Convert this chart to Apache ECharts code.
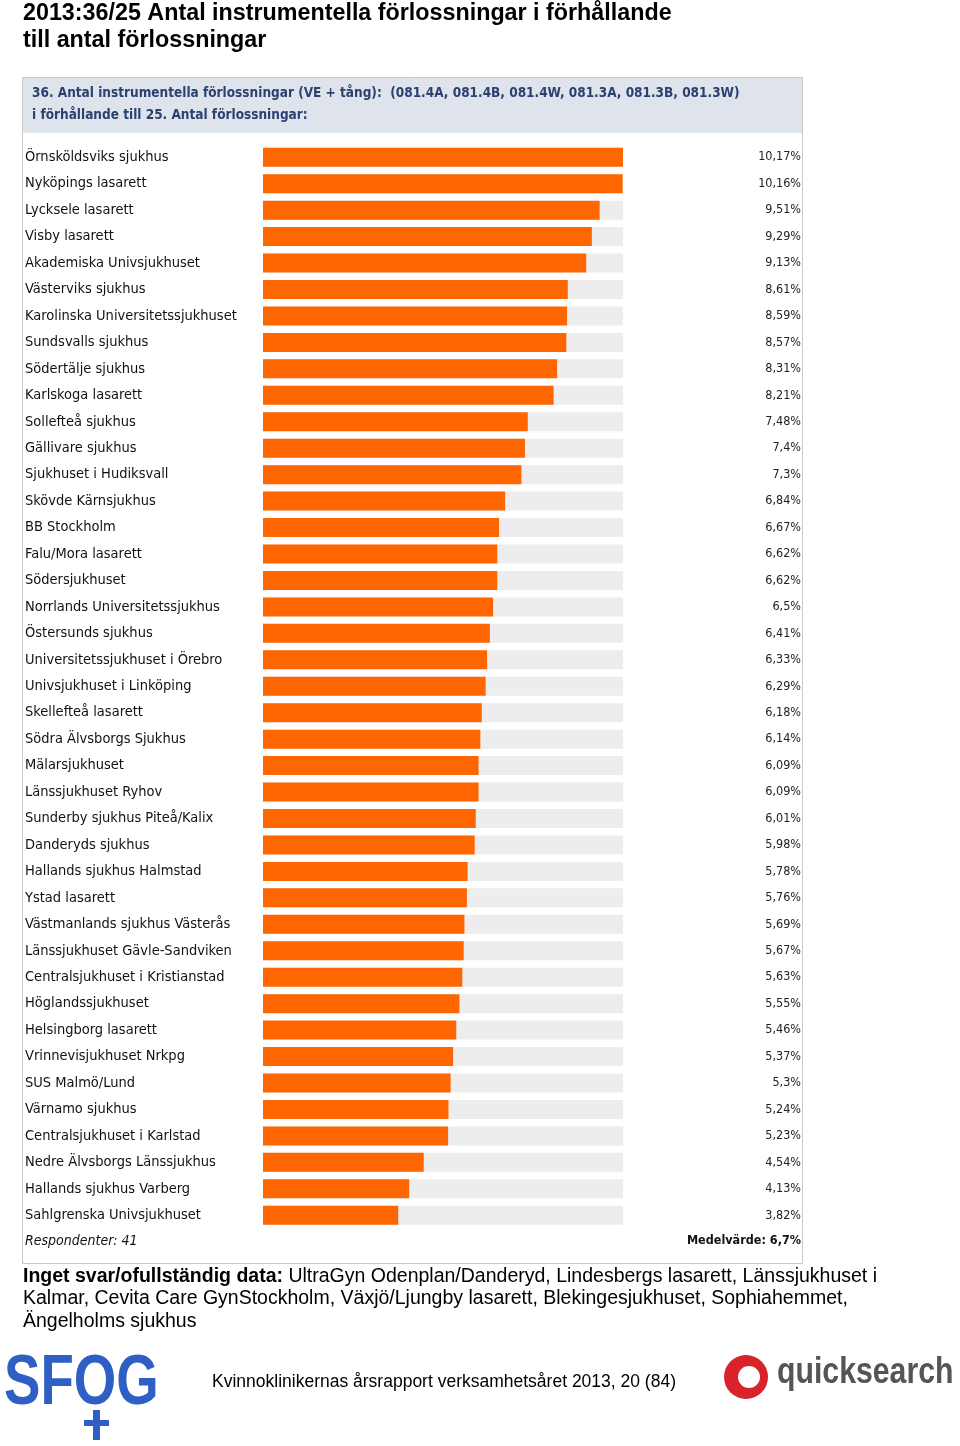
<!DOCTYPE html>
<html><head><meta charset="utf-8">
<script src="https://cdn.jsdelivr.net/npm/echarts@6/dist/echarts.min.js"></script>
<style>html,body{margin:0;padding:0;background:#fff}#c{width:960px;height:1446px}</style>
</head><body><div id="c"></div>
<script>
const categories = [
  "Örnsköldsviks sjukhus","Nyköpings lasarett","Lycksele lasarett","Visby lasarett",
  "Akademiska Univsjukhuset","Västerviks sjukhus","Karolinska Universitetssjukhuset",
  "Sundsvalls sjukhus","Södertälje sjukhus","Karlskoga lasarett","Sollefteå sjukhus",
  "Gällivare sjukhus","Sjukhuset i Hudiksvall","Skövde Kärnsjukhus","BB Stockholm",
  "Falu/Mora lasarett","Södersjukhuset","Norrlands Universitetssjukhus","Östersunds sjukhus",
  "Universitetssjukhuset i Örebro","Univsjukhuset i Linköping","Skellefteå lasarett",
  "Södra Älvsborgs Sjukhus","Mälarsjukhuset","Länssjukhuset Ryhov","Sunderby sjukhus Piteå/Kalix",
  "Danderyds sjukhus","Hallands sjukhus Halmstad","Ystad lasarett","Västmanlands sjukhus Västerås",
  "Länssjukhuset Gävle-Sandviken","Centralsjukhuset i Kristianstad","Höglandssjukhuset",
  "Helsingborg lasarett","Vrinnevisjukhuset Nrkpg","SUS Malmö/Lund","Värnamo sjukhus",
  "Centralsjukhuset i Karlstad","Nedre Älvsborgs Länssjukhus","Hallands sjukhus Varberg",
  "Sahlgrenska Univsjukhuset"
];
const values = [
  10.17,10.16,9.51,9.29,9.13,8.61,8.59,8.57,8.31,8.21,7.48,7.4,7.3,6.84,6.67,6.62,6.62,6.5,6.41,
  6.33,6.29,6.18,6.14,6.09,6.09,6.01,5.98,5.78,5.76,5.69,5.67,5.63,5.55,5.46,5.37,5.3,5.24,5.23,
  4.54,4.13,3.82
];
const valueLabels = values.map(v => String(v).replace('.', ',') + '%');
const respondents = 41;
const meanValue = "6,7%";
const pageTitle = ["2013:36/25 Antal instrumentella förlossningar i förhållande", "till antal förlossningar"];
const panelHeader = ["36. Antal instrumentella förlossningar (VE + tång):  (081.4A, 081.4B, 081.4W, 081.3A, 081.3B, 081.3W)", "i förhållande till 25. Antal förlossningar:"];
const noAnswerLabel = "Inget svar/ofullständig data:";
const noAnswerLines = [" UltraGyn Odenplan/Danderyd, Lindesbergs lasarett, Länssjukhuset i", "Kalmar, Cevita Care GynStockholm, Växjö/Ljungby lasarett, Blekingesjukhuset, Sophiahemmet,", "Ängelholms sjukhus"];
const footerText = "Kvinnoklinikernas årsrapport verksamhetsåret 2013, 20 (84)";

const chart = echarts.init(document.getElementById('c'), null, {renderer: 'canvas'});
const lblFont = '"DejaVu Sans Condensed", "DejaVu Sans", sans-serif';
const arial = '"Liberation Sans", Arial, sans-serif';
chart.setOption({
  animation: false,
  grid: {left: 263, width: 360, top: 144, height: 1084.5, containLabel: false},
  xAxis: {type: 'value', min: 0, max: 10.17, show: false},
  yAxis: [
    {type: 'category', data: categories, inverse: true,
     axisLine: {show: false}, axisTick: {show: false},
     axisLabel: {align: 'left', margin: 238, fontSize: 14.5, color: '#111', fontFamily: lblFont}},
    {type: 'category', data: valueLabels, inverse: true, position: 'right',
     axisLine: {show: false}, axisTick: {show: false},
     axisLabel: {align: 'right', margin: 178, fontSize: 12.5, color: '#222', fontFamily: lblFont}}
  ],
  series: [{
    type: 'bar', data: values, yAxisIndex: 0, barWidth: 19,
    itemStyle: {color: '#ff6600'},
    showBackground: true, backgroundStyle: {color: '#ededed'}
  }],
  graphic: [
    {type: 'text', left: 23, top: 2, style: {text: pageTitle[0], font: 'bold 23.3px ' + arial, fill: '#000'}},
    {type: 'text', left: 23, top: 29, style: {text: pageTitle[1], font: 'bold 23.3px ' + arial, fill: '#000'}},
    {type: 'rect', shape: {x: 22.5, y: 77.5, width: 780, height: 1186}, style: {fill: '#fff', stroke: '#c8c8c8', lineWidth: 1}, z: -10},
    {type: 'rect', shape: {x: 23, y: 78, width: 779, height: 55}, style: {fill: '#dfe4ec'}, z: -9},
    {type: 'text', left: 32, top: 86, style: {text: panelHeader[0], font: 'bold 13.5px ' + lblFont, fill: '#2b4170'}},
    {type: 'text', left: 32, top: 108, style: {text: panelHeader[1], font: 'bold 13.5px ' + lblFont, fill: '#2b4170'}},
    {type: 'text', left: 25, top: 1234, style: {text: 'Respondenter: ' + respondents, font: 'italic 14px ' + lblFont, fill: '#111'}},
    {type: 'text', right: 159, top: 1234, style: {text: 'Medelvärde: ' + meanValue, font: 'bold 12.5px ' + lblFont, fill: '#111'}},
    {type: 'text', left: 23, top: 1267, style: {
      rich: {b: {font: 'bold 19.5px ' + arial, fill: '#000'}, n: {font: '19.5px ' + arial, fill: '#000'}},
      text: '{b|' + noAnswerLabel + '}{n|' + noAnswerLines[0] + '}'}},
    {type: 'text', left: 23, top: 1289, style: {text: noAnswerLines[1], font: '19.5px ' + arial, fill: '#000'}},
    {type: 'text', left: 23, top: 1312, style: {text: noAnswerLines[2], font: '19.5px ' + arial, fill: '#000'}},
    {type: 'text', left: 212, top: 1373, style: {text: footerText, font: '17.5px ' + arial, fill: '#000'}},
    // SFOG logo
    {type: 'group', left: 4, top: 1350, children: [
      {type: 'text', x: 0, y: 0, scaleX: 0.78, style: {text: 'SFOG', font: 'bold 70px ' + arial, fill: '#2f5fc4'}},
      {type: 'rect', shape: {x: 89, y: 60, width: 7, height: 30}, style: {fill: '#2f5fc4'}},
      {type: 'rect', shape: {x: 80, y: 70, width: 25, height: 6}, style: {fill: '#2f5fc4'}}
    ]},
    // quicksearch logo
    {type: 'circle', shape: {cx: 746, cy: 1377, r: 22}, style: {fill: '#d8232a'}},
    {type: 'circle', shape: {cx: 749, cy: 1377, r: 11}, style: {fill: '#fff'}},
    {type: 'text', left: 777, top: 1355, style: {text: 'quicksearch', font: 'bold 36px ' + arial, fill: '#555'}, scaleX: 0.84}
  ]
});
</script></body></html>
